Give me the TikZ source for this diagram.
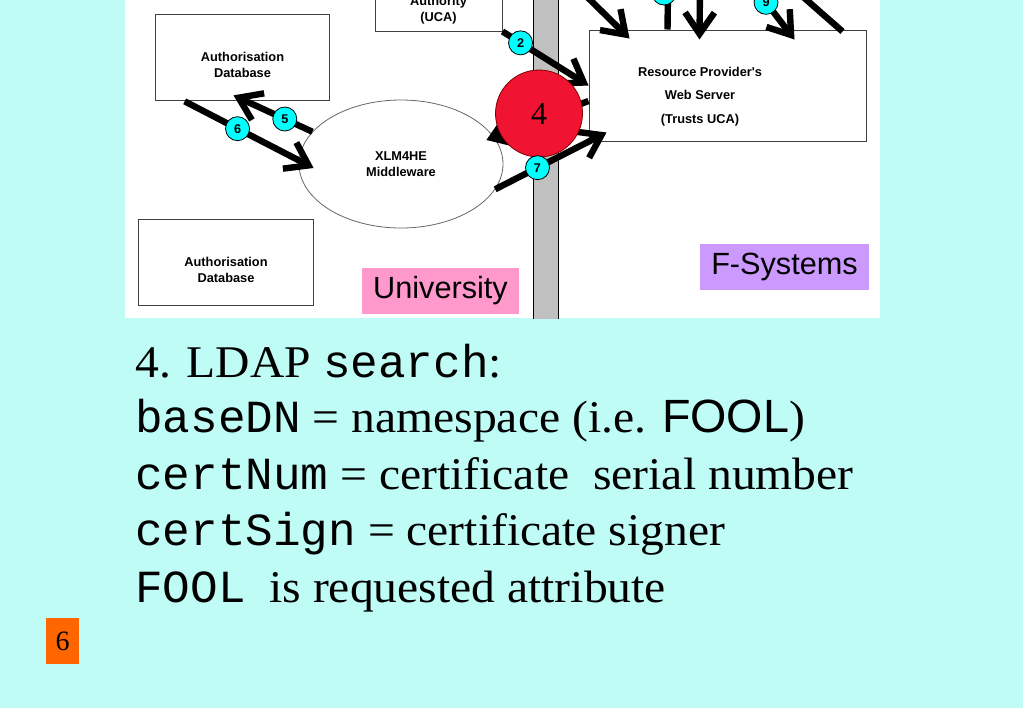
\documentclass[tikz,border=0pt]{standalone}
\usepackage{fontspec}
\setmainfont{Liberation Serif}
\setsansfont{Liberation Sans}
\setmonofont{Liberation Mono}
\newfontfamily\slideserif[FakeStretch=1.05]{Liberation Serif}
\newfontfamily\boxfont{Liberation Sans}
\usetikzlibrary{shapes.geometric,arrows.meta,positioning,calc}
\definecolor{cSlide}{RGB}{191,252,246}
\definecolor{cBar}{RGB}{192,192,192}
\definecolor{cStep}{RGB}{0,255,255}
\definecolor{cStop}{RGB}{240,20,50}
\definecolor{cPink}{RGB}{255,153,204}
\definecolor{cLilac}{RGB}{204,153,255}
\definecolor{cPage}{RGB}{255,102,0}
\newcommand{\slidecode}[1]{{\fontsize{34.5pt}{40pt}\ttfamily #1}}
\tikzset{
  basebox/.style={rectangle,draw=black!75,fill=white,line width=0.75pt,
                  inner sep=0pt},
  boxtext/.style={align=center,inner sep=0pt,
                  font=\fontsize{9.6pt}{12pt}\boxfont\bfseries},
  dbnode/.style={basebox,minimum width=131pt,minimum height=65pt},
  ucanode/.style={basebox,minimum width=95.25pt,minimum height=53.25pt},
  wsnode/.style={basebox,minimum width=207.75pt,minimum height=83.25pt},
  mwnode/.style={ellipse,draw=black!60,fill=white,line width=0.6pt,
                 minimum width=153pt,minimum height=96pt,boxtext},
  stopnode/.style={circle,draw=red!50!black,fill=cStop,line width=0.6pt,
                   minimum size=65.25pt,inner sep=0pt,
                   font=\fontsize{24pt}{24pt}\rmfamily},
  stepdot/.style={circle,draw=black,fill=cStep,line width=0.6pt,
                  minimum size=18pt,inner sep=0pt,
                  font=\fontsize{9.5pt}{10pt}\boxfont\bfseries},
  tagnode/.style={rectangle,minimum width=117.75pt,minimum height=34.5pt,
                  inner sep=0pt,font=\fontsize{23pt}{24pt}\sffamily},
  pagenode/.style={rectangle,fill=cPage,minimum width=24.75pt,
                   minimum height=34.5pt,inner sep=0pt,
                   font=\fontsize{21pt}{22pt}\rmfamily},
  slidetext/.style={anchor=base west,inner sep=0pt,
                    font=\fontsize{34pt}{40pt}\slideserif},
  flow/.style={line width=4.8pt,-{Straight Barb[length=16pt,width=22pt]}},
  wire/.style={line width=4.8pt}
}

\begin{document}
\begin{tikzpicture}[x=0.75pt,y=-0.75pt]
  \useasboundingbox (0,0) rectangle (1023,708);
  \fill[cSlide] (0,0) rectangle (1023,708);

  % screenshot of the scenario
  \begin{scope}
    \clip (125,0) rectangle (880,318);
    \fill[white] (125,0) rectangle (880,318);
    \draw[fill=cBar,line width=0.75pt] (533,-5) rectangle (558,330);

    \node[ucanode,label={[boxtext,yshift=-11.25pt]center:{Authority\\(UCA)}}]
        (uca) at (438.5,-4.5) {};
    \node[dbnode,label={[boxtext,yshift=-5.6pt]center:{Authorisation\\Database}}]
        (authdb) at (242.5,57.5) {};
    \node[dbnode,label={[boxtext,yshift=-5.6pt]center:{Authorisation\\Database}}]
        (authdb2) at (226,262.5) {};
    \node[mwnode] (mw) at (401,164) {XLM4HE\\Middleware};
    \node[wsnode,label={[boxtext,font=\fontsize{9.6pt}{17.6pt}\boxfont\bfseries,
          xshift=-20.6pt,yshift=-8.25pt]center:{Resource Provider's\\Web Server\\(Trusts UCA)}}]
        (ws) at (727.5,85.5) {};

    % free ends above the panel
    \coordinate (topA) at (575,-15);
    \coordinate (topB) at (668,-10);
    \coordinate (topC) at (700,-15);
    \coordinate (topD) at (752,-16);
    \coordinate (topE) at (793,-12);

    % flows
    \draw[flow] (uca.south east) -- (ws.west) node[stepdot,pos=0.21] (st2) {2};
    \draw[flow] (mw.160) -- ($(authdb.south)+(-9,-6)$)
        node[stepdot,pos=0.35] (st5) {5};
    \draw[flow] ($(authdb.south west)+(30,0)$) -- ($(mw.west)+(15,4)$)
        node[stepdot,pos=0.41] (st6) {6};
    \draw[flow] ($(ws.west)+(0,15.5)$) -- ($(mw.east)+(-17,-24)$);
    \draw[flow] (mw.-15) -- ($(ws.south west)+(18,-9)$) coordinate[pos=0.38] (at7);

    \draw[flow] (topA) -- ($(ws.north west)+(41,9)$);
    \draw[wire] ($(ws.north west)+(79,0)$) -- (topB);
    \node[stepdot] (stx) at (664,-7) {};
    \draw[flow] (topC) -- ($(ws.north west)+(111,10)$);
    \draw[flow] (topD) -- ($(ws.north west)+(206,10)$)
        node[stepdot,pos=0.33] (st9) {9};
    \draw[wire] ($(ws.north west)+(254,2)$) -- (topE);

    \node[stopnode] (q4) at (539,113.5) {4};
    \node[stepdot] (st7) at (at7) {7};

    \node[tagnode,fill=cPink] (uni) at (440.5,291) {University};
    \node[tagnode,fill=cLilac,minimum width=126.75pt] (fsys) at (784.5,267) {F-Systems};
  \end{scope}

  % LDAP search text
  \node[slidetext] (ln1) at (135,377) {4. LDAP \slidecode{search}:};
  \node[slidetext] (ln2) at (135,432.5)
      {\slidecode{baseDN} = namespace (i.e. {\fontsize{35pt}{36pt}\sffamily FOOL})};
  \node[slidetext] (ln3) at (135,489)
      {\slidecode{certNum} = certificate\ \ serial number};
  \node[slidetext] (ln4) at (135,545.5) {\slidecode{certSign} = certificate signer};
  \node[slidetext] (ln5) at (135,602) {\slidecode{FOOL}\ \ is requested attribute};

  \node[pagenode] (pg) at (62.5,641) {6};
\end{tikzpicture}
\end{document}
